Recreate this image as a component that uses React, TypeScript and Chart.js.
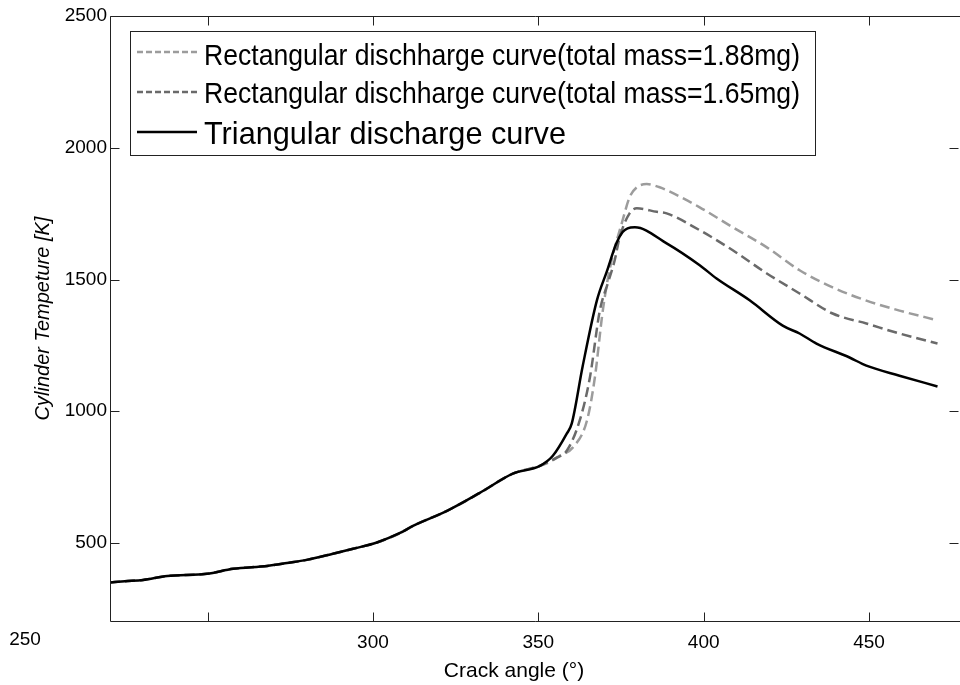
import React, { useEffect, useRef } from 'react';
import { Chart, registerables } from 'chart.js';

Chart.register(...registerables);

// ---- axis settings ----
const xTickValues = [250, 300, 350, 400, 450];
const yTickValues = [500, 1000, 1500, 2000, 2500];
const xMin = 220.5;
const xMax = 477.2;
const yMin = 204;
const yMax = 2500;
const xTitle = 'Crack angle (°)';
const yTitle = 'Cylinder Tempeture [K]';
const strayXLabel = '250';

// ---- series labels ----
const seriesLabels = [
  'Rectangular dischharge curve(total mass=1.88mg)',
  'Rectangular dischharge curve(total mass=1.65mg)',
  'Triangular discharge curve',
];

// ---- triangular discharge curve (solid black) ----
const triAngles = [
  220.5, 225, 230.5, 237.8, 249.8, 257.7, 268, 274, 280, 287.9, 294, 301.2, 308.2, 312.1,
  322.4, 332.3, 342.3, 350.5, 354.4, 358.6, 360.1, 363.4, 367.7, 370.7, 373.7, 375.5,
  377, 379.2, 388.8, 398.8, 403.9, 413.9, 423.9, 429, 434.1, 444.1, 449.2, 459.2, 470.7,
];
const triTemps = [
  350, 355, 360, 375, 383, 402, 413, 424, 436, 459, 478, 502, 538, 565,
  622, 690, 763, 793, 831, 915, 953, 1170, 1420, 1530, 1640, 1680,
  1694, 1698, 1637, 1554, 1504, 1421, 1325, 1295, 1257, 1204, 1173, 1135, 1094,
];

// ---- rectangular discharge, total mass 1.88 mg (light grey dashed) ----
const rect188Angles = [
  220.5, 225, 230.5, 237.8, 249.8, 257.7, 268, 274, 280, 287.9, 294, 301.2, 308.2, 312.1,
  322.4, 332.3, 342.3, 350.5, 353, 356.5, 360.4, 364.7, 367.1, 369.5, 371.6, 375.5,
  377.6, 379.8, 382.8, 386.7, 388.8, 398.8, 408.8, 419.1, 429, 439, 449.2, 459.2, 470.7,
];
const rect188Temps = [
  350, 355, 360, 375, 383, 402, 413, 424, 436, 459, 478, 502, 538, 565,
  622, 690, 763, 793, 805, 831, 862, 964, 1128, 1382, 1540, 1725,
  1812, 1850, 1862, 1850, 1839, 1774, 1698, 1622, 1535, 1470, 1420, 1382, 1345,
];

// ---- rectangular discharge, total mass 1.65 mg (dark grey dashed) ----
const rect165Angles = [
  220.5, 225, 230.5, 237.8, 249.8, 257.7, 268, 274, 280, 287.9, 294, 301.2, 308.2, 312.1,
  322.4, 332.3, 342.3, 350.5, 353, 355.6, 358.6, 362.5, 365.6, 368.6, 371, 373.1,
  374.6, 377.6, 379.8, 385.8, 388.8, 398.8, 408.8, 419.1, 429, 439, 449.2, 459.2, 470.7,
];
const rect165Temps = [
  350, 355, 360, 375, 383, 402, 413, 424, 436, 459, 478, 502, 538, 565,
  622, 690, 763, 793, 808, 824, 850, 964, 1128, 1382, 1485, 1573,
  1660, 1751, 1770, 1757, 1751, 1687, 1611, 1523, 1447, 1371, 1333, 1295, 1257,
];

const FONT = '"Liberation Sans", Arial, Helvetica, sans-serif';

const toPoints = (xs: number[], ys: number[]) => xs.map((x, i) => ({ x, y: ys[i] }));

const framePlugin = {
  id: 'frameAndLegend',
  afterDatasetsDraw(chart: any) {
    const { ctx, chartArea, scales, width } = chart;
    const { left, right, top, bottom } = chartArea;
    const xs = scales.x;
    const ys = scales.y;
    const L = Math.round(left) + 0.5;
    const R = Math.round(right) - 0.5;
    const T = Math.round(top) + 0.5;
    const B = Math.round(bottom) + 0.5;
    ctx.save();
    ctx.strokeStyle = '#222';
    ctx.lineWidth = 1;
    ctx.beginPath();
    ctx.moveTo(width, T);
    ctx.lineTo(L, T);
    ctx.lineTo(L, B);
    ctx.lineTo(width, B);
    ctx.stroke();
    // inward ticks
    const tl = 9;
    ctx.beginPath();
    xTickValues.forEach((v) => {
      const px = Math.round(xs.getPixelForValue(v)) + 0.5;
      ctx.moveTo(px, B);
      ctx.lineTo(px, B - tl);
      ctx.moveTo(px, T);
      ctx.lineTo(px, T + tl);
    });
    yTickValues.forEach((v) => {
      const py = Math.round(ys.getPixelForValue(v)) + 0.5;
      ctx.moveTo(L, py);
      ctx.lineTo(L + tl, py);
      ctx.moveTo(R, py);
      ctx.lineTo(R - tl, py);
    });
    ctx.stroke();

    // stray x tick label and x title, placed as in the reference
    ctx.fillStyle = '#000';
    ctx.font = `19px ${FONT}`;
    ctx.textAlign = 'center';
    ctx.textBaseline = 'middle';
    ctx.fillText(strayXLabel, 25, 640);
    ctx.font = `21px ${FONT}`;
    ctx.fillText(xTitle, 514, 671);

    // legend
    const bx = 130, by = 31, bw = 685, bh = 124;
    ctx.fillStyle = '#fff';
    ctx.fillRect(bx, by, bw, bh);
    ctx.strokeStyle = '#222';
    ctx.lineWidth = 1;
    ctx.strokeRect(bx + 0.5, by + 0.5, bw, bh);
    const rows = [
      { ds: 0, lineY: 52, base: 65, size: 30, maxW: 596 },
      { ds: 1, lineY: 92, base: 103, size: 30, maxW: 596 },
      { ds: 2, lineY: 132, base: 144, size: 32, maxW: 362 },
    ];
    rows.forEach((r) => {
      const d = chart.data.datasets[r.ds];
      ctx.save();
      ctx.strokeStyle = d.borderColor;
      ctx.lineWidth = d.borderWidth;
      ctx.setLineDash(d.borderDash && d.borderDash.length ? [6, 3] : []);
      ctx.beginPath();
      ctx.moveTo(137, r.lineY);
      ctx.lineTo(197, r.lineY);
      ctx.stroke();
      ctx.restore();
      ctx.fillStyle = '#000';
      ctx.font = `${r.size}px ${FONT}`;
      ctx.textAlign = 'left';
      ctx.textBaseline = 'alphabetic';
      ctx.fillText(d.label, 204, r.base, r.maxW);
    });
    ctx.restore();
  },
};

export default function App() {
  const canvasRef = useRef<HTMLCanvasElement | null>(null);

  useEffect(() => {
    if (!canvasRef.current) return;
    const chart = new Chart(canvasRef.current, {
      type: 'line',
      data: {
        datasets: [
          {
            label: seriesLabels[0],
            data: toPoints(rect188Angles, rect188Temps),
            borderColor: '#9c9c9c',
            borderWidth: 2.5,
            borderDash: [10, 5],
            pointRadius: 0,
            cubicInterpolationMode: 'monotone',
            order: 2,
          },
          {
            label: seriesLabels[1],
            data: toPoints(rect165Angles, rect165Temps),
            borderColor: '#6a6a6a',
            borderWidth: 2.5,
            borderDash: [10, 5],
            pointRadius: 0,
            cubicInterpolationMode: 'monotone',
            order: 1,
          },
          {
            label: seriesLabels[2],
            data: toPoints(triAngles, triTemps),
            borderColor: '#000000',
            borderWidth: 2.5,
            borderDash: [],
            pointRadius: 0,
            cubicInterpolationMode: 'monotone',
            order: 0,
          },
        ],
      },
      options: {
        responsive: false,
        animation: false,
        layout: { padding: { left: 0, right: 1, top: 16, bottom: 0 } },
        plugins: {
          legend: { display: false },
          tooltip: { enabled: false },
        },
        scales: {
          x: {
            type: 'linear',
            min: xMin,
            max: xMax,
            afterBuildTicks: (scale: any) => {
              scale.ticks = xTickValues.map((v) => ({ value: v }));
            },
            afterFit: (scale: any) => {
              scale.height = 64;
            },
            grid: { display: false, drawTicks: false },
            border: { display: false },
            ticks: {
              autoSkip: false,
              maxRotation: 0,
              padding: 10,
              color: '#000',
              font: { family: FONT, size: 19 },
              callback: (v: any) => (v === 250 ? '' : String(v)),
            },
            title: { display: false, text: xTitle },
          },
          y: {
            type: 'linear',
            min: yMin,
            max: yMax,
            afterBuildTicks: (scale: any) => {
              scale.ticks = yTickValues.map((v) => ({ value: v }));
            },
            afterFit: (scale: any) => {
              scale.width = 110;
            },
            grid: { display: false, drawTicks: false },
            border: { display: false },
            ticks: {
              padding: 3,
              color: '#000',
              font: { family: FONT, size: 19 },
              callback: (v: any) => String(v),
            },
            title: {
              display: true,
              text: yTitle,
              color: '#000',
              font: { family: FONT, size: 20, style: 'italic' },
              padding: { top: 31, bottom: 0 },
            },
          },
        },
      },
      plugins: [framePlugin],
    });
    return () => chart.destroy();
  }, []);

  return (
    <div style={{ position: 'absolute', left: 0, top: 0, width: 960, height: 685, background: '#fff' }}>
      <canvas ref={canvasRef} width={960} height={685} style={{ display: 'block' }} />
    </div>
  );
}
